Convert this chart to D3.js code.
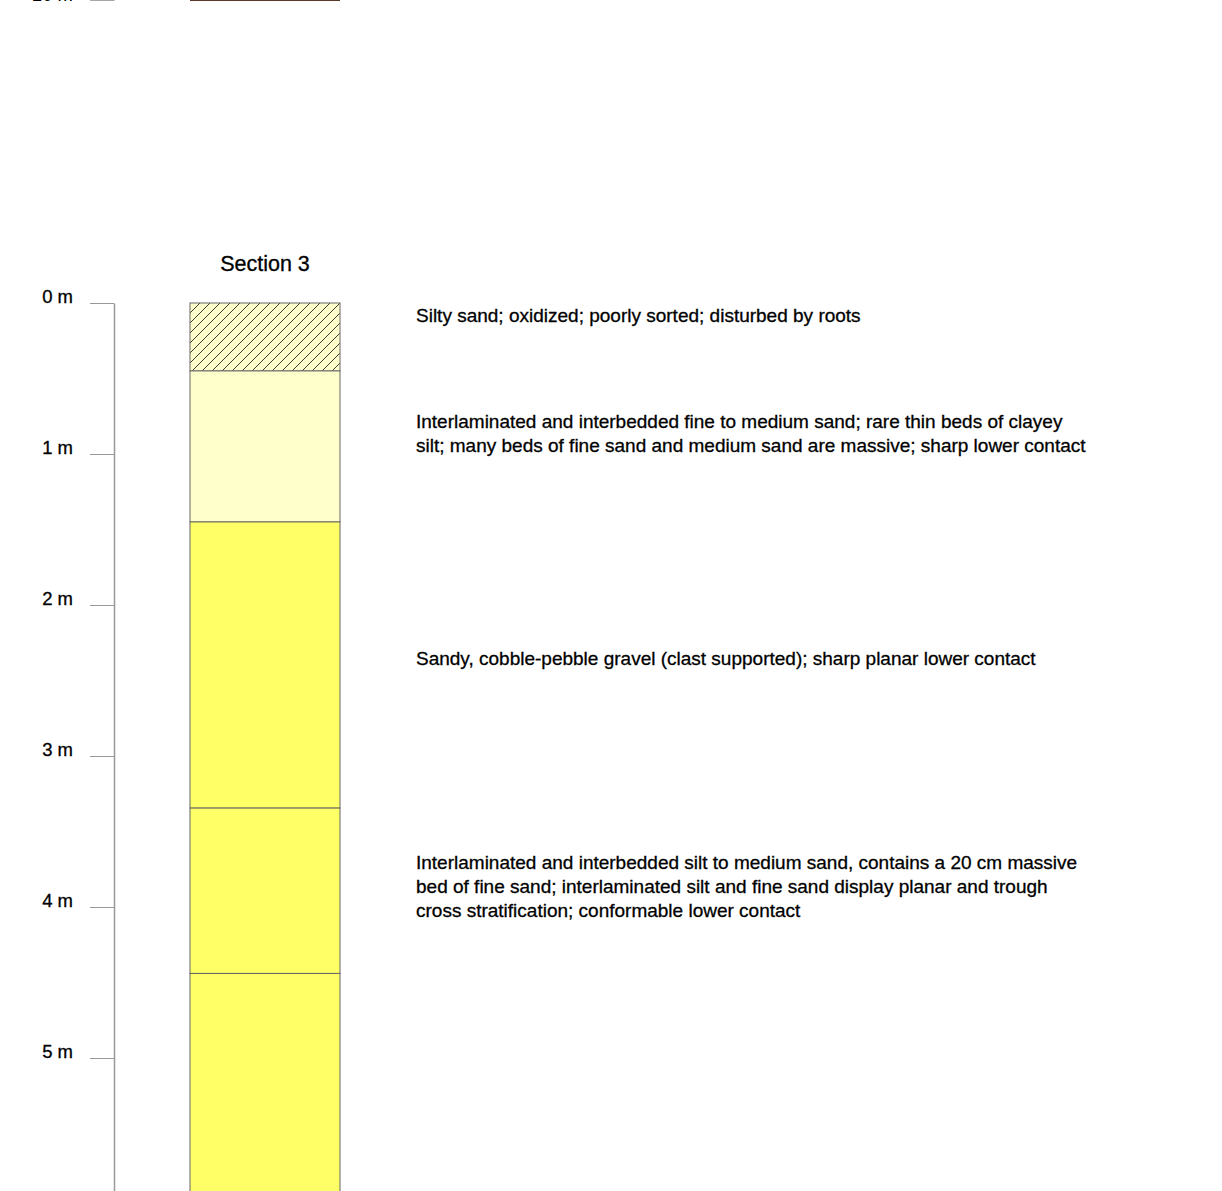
<!DOCTYPE html>
<html>
<head>
<meta charset="utf-8">
<script src="https://cdn.jsdelivr.net/npm/d3@7"></script>
<style>
  html, body { margin: 0; padding: 0; background: #fff; }
  svg { display: block; font-family: "Liberation Sans", Arial, Helvetica, sans-serif; }
</style>
</head>
<body>
<svg id="chart" width="1222" height="1191"></svg>
<script>
// ---- data ----
const sectionTitle = "Section 3";
const depthTicks = [0, 1, 2, 3, 4, 5];
const layerTops = [0, 0.45, 1.45, 3.345, 4.44];
const layerBottoms = [0.45, 1.45, 3.345, 4.44, 6.6];
const layerFills = ["hatch", "#ffffcc", "#ffff66", "#ffff66", "#ffff66"];
const descriptions = [
  ["Silty sand; oxidized; poorly sorted; disturbed by roots"],
  ["Interlaminated and interbedded fine to medium sand; rare thin beds of clayey",
   "silt; many beds of fine sand and medium sand are massive; sharp lower contact"],
  ["Sandy, cobble-pebble gravel (clast supported); sharp planar lower contact"],
  ["Interlaminated and interbedded silt to medium sand, contains a 20 cm massive",
   "bed of fine sand; interlaminated silt and fine sand display planar and trough",
   "cross stratification; conformable lower contact"]
];
const descriptionDepths = [0.08, 0.86, 2.35, 3.86];
const prevSectionLabel = "10 m";

// ---- drawing ----
const svg = d3.select("#chart");
const y = d3.scaleLinear().domain([0, 6.6]).range([303, 303 + 6.6 * 151]);
const colX = d3.scaleLinear().domain([0, 1]).range([190, 340]);
const axisX = 114;

// hatch pattern
const defs = svg.append("defs");
const pat = defs.append("pattern")
  .attr("id", "hatch").attr("patternUnits", "userSpaceOnUse")
  .attr("width", 10).attr("height", 10)
  .attr("patternTransform", "translate(190,303)");
pat.append("rect").attr("width", 10).attr("height", 10).attr("fill", "#ffffcc");
pat.append("path").attr("d", "M-1,11 L11,-1 M-6,6 L6,-6 M4,16 L16,4")
  .attr("stroke", "#222").attr("stroke-width", 0.9);

// remnant of previous section at top of page
svg.append("line").attr("x1", 190).attr("x2", 340).attr("y1", 0).attr("y2", 0)
  .attr("stroke", "#5a3a2a").attr("stroke-width", 2);
svg.append("line").attr("x1", 90).attr("x2", axisX).attr("y1", 0).attr("y2", 0)
  .attr("stroke", "#888").attr("stroke-width", 1.5);
svg.append("line").attr("x1", axisX).attr("x2", axisX).attr("y1", -5).attr("y2", 0.5)
  .attr("stroke", "#999").attr("stroke-width", 1.5);
svg.append("text").attr("x", 73).attr("y", 1).attr("text-anchor", "end")
  .attr("font-size", 18.5).attr("fill", "#000").text(prevSectionLabel);

// axis
const axis = d3.axisLeft(y).tickValues(depthTicks)
  .tickFormat(d => d + " m").tickSize(24).tickSizeOuter(0).tickPadding(17);
const gAxis = svg.append("g").attr("transform", `translate(${axisX},0)`).call(axis);
gAxis.select(".domain").attr("stroke", "#999").attr("stroke-width", 1.5);
gAxis.selectAll(".tick line").attr("stroke", "#999").attr("stroke-width", 1);
gAxis.selectAll(".tick text").attr("font-size", 18.5).attr("fill", "#000")
  .attr("stroke", "#000").attr("stroke-width", 0.3)
  .attr("font-family", "'Liberation Sans', Arial, sans-serif").attr("dy", "-0.05em");

// title
svg.append("text").attr("x", colX(0.5)).attr("y", 271).attr("text-anchor", "middle")
  .attr("font-size", 21.5).attr("fill", "#000")
  .attr("stroke", "#000").attr("stroke-width", 0.3).text(sectionTitle);

// layers
const layers = layerTops.map((t, i) => ({top: t, bottom: layerBottoms[i], fill: layerFills[i]}));
svg.append("g").selectAll("rect").data(layers).join("rect")
  .attr("x", colX(0)).attr("width", colX(1) - colX(0))
  .attr("y", d => y(d.top)).attr("height", d => y(d.bottom) - y(d.top))
  .attr("fill", d => d.fill === "hatch" ? "url(#hatch)" : d.fill)
  .attr("stroke", "#666").attr("stroke-width", 1);

// descriptions
const lineH = 24;
const gDesc = svg.append("g");
descriptions.forEach((lines, i) => {
  const cy = y(descriptionDepths[i]);
  const startY = cy - (lines.length - 1) * lineH / 2;
  const t = gDesc.append("text").attr("font-size", 19).attr("fill", "#000")
    .attr("stroke", "#000").attr("stroke-width", 0.3);
  lines.forEach((ln, j) => {
    t.append("tspan").attr("x", 416).attr("y", startY + j * lineH).attr("dy", "0.35em").text(ln);
  });
});
</script>
</body>
</html>
